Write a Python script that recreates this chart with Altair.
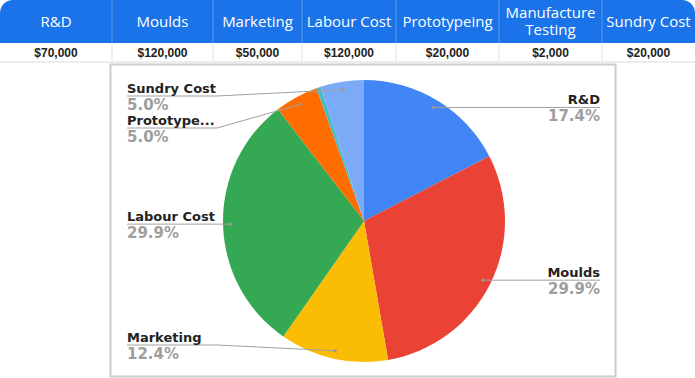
import math
import altair as alt
import pandas as pd

# ---------------- data ----------------
categories = ["R&D", "Moulds", "Marketing", "Labour Cost", "Prototypeing",
              "Manufacture Testing", "Sundry Cost"]
costs = [70000, 120000, 50000, 120000, 20000, 2000, 20000]
header_labels = ["R&D", "Moulds", "Marketing", "Labour Cost", "Prototypeing",
                 "Manufacture\nTesting", "Sundry Cost"]
pie_labels = ["R&D", "Moulds", "Marketing", "Labour Cost", "Prototype...",
              "Manufacture Testing", "Sundry Cost"]
slice_colors = ["#4285F4", "#EA4335", "#FBBC04", "#34A853", "#FF6D01",
                "#46BDC6", "#7BAAF7"]

# ---------------- layout (pixels) ----------------
W, H = 695, 378
col_widths = [112, 101, 89, 94, 103, 103, 93]
HEAD_H, ROW_B = 43, 62
HEAD_LINE_H = 17
BOX = (110.5, 64.5, 615.5, 376.5)
CX, CY, R = 364, 221, 141
DOT_R = 0.943 * R
LEFT_X, RIGHT_X, LABEL_W = 127, 600, 90
TOP_BOUND, BOT_BOUND, GAP = 96, 345, 32

xs = alt.Scale(domain=[0, W], nice=False, zero=False)
ys = alt.Scale(domain=[0, H], nice=False, zero=False, reverse=True)

def X(f):
    return alt.X(f, type="quantitative", scale=xs, axis=None)

def Y(f):
    return alt.Y(f, type="quantitative", scale=ys, axis=None)

# ---------------- table ----------------
edges = [0]
for w in col_widths:
    edges.append(edges[-1] + w)
table = pd.DataFrame({
    "cat": categories,
    "head": header_labels,
    "val": ["${:,}".format(v) for v in costs],
    "x0": edges[:-1],
    "x1": edges[1:],
})
table["xc"] = (table["x0"] + table["x1"]) / 2
table["yh"] = HEAD_H / 2
table["yv"] = (HEAD_H + ROW_B) / 2 + 0.5
table["nlines"] = table["head"].str.count("\n") + 1

header_bg = alt.Chart(pd.DataFrame({"x0": [0], "x1": [W], "y0": [0], "y1": [HEAD_H]})).mark_rect(
    color="#1a73e8", cornerRadiusTopLeft=13, cornerRadiusTopRight=13
).encode(x=X("x0"), x2="x1", y=Y("y0"), y2="y1")

seps = pd.DataFrame({"x": edges[1:-1]})
seps["y0"], seps["y1"], seps["y2"] = 0, HEAD_H, ROW_B
head_seps = alt.Chart(seps).mark_rule(color="#5f9cf0", strokeWidth=1).encode(
    x=X("x"), y=Y("y0"), y2="y1")
row_seps = alt.Chart(seps).mark_rule(color="#e3e3e3", strokeWidth=1).encode(
    x=X("x"), y=Y("y1"), y2="y2")
row_bottom = alt.Chart(pd.DataFrame({"x0": [0], "x1": [W], "y": [ROW_B]})).mark_rule(
    color="#dadada", strokeWidth=1).encode(x=X("x0"), x2="x1", y=Y("y"))

head_layers = []
for n in sorted(table["nlines"].unique()):
    sub = table[table["nlines"] == n]
    head_layers.append(alt.Chart(sub).mark_text(
        font="Open Sans", fontSize=15, color="white", align="center", baseline="middle",
        lineBreak="\n", lineHeight=HEAD_LINE_H, dy=-(int(n) - 1) * HEAD_LINE_H / 2
    ).encode(x=X("xc"), y=Y("yh"), text="head:N"))

val_text = alt.Chart(table).mark_text(
    font="Liberation Sans", fontSize=12, fontWeight="bold", color="#222222",
    align="center", baseline="middle"
).encode(x=X("xc"), y=Y("yv"), text="val:N")

# ---------------- pie ----------------
box = alt.Chart(pd.DataFrame({"x0": [BOX[0]], "x1": [BOX[2]], "y0": [BOX[1]], "y1": [BOX[3]]})).mark_rect(
    fill="white", stroke="#cccccc", strokeWidth=2
).encode(x=X("x0"), x2="x1", y=Y("y0"), y2="y1")

pie_df = pd.DataFrame({"cat": categories, "value": costs, "idx": list(range(len(costs)))})
pie = alt.Chart(pie_df).mark_arc(radius=R).encode(
    theta=alt.Theta("value:Q", stack=True),
    order=alt.Order("idx:Q", sort="ascending"),
    color=alt.Color("cat:N", scale=alt.Scale(domain=categories, range=slice_colors), legend=None),
    x=alt.value(CX),
    y=alt.value(CY),
)

# leader geometry from data
total = sum(costs)
labels = []
cum = 0
for name, v in zip(pie_labels, costs):
    share = v / total
    mid = (cum + v / 2) / total * 2 * math.pi
    cum += v
    if share < 0.01:
        continue
    dx, dy = CX + DOT_R * math.sin(mid), CY - DOT_R * math.cos(mid)
    labels.append({"name": name, "pct": "{:.1f}%".format(share * 100),
                   "dx": dx, "dy": dy, "side": "L" if math.sin(mid) < 0 else "R", "ly": dy})

for side in ("L", "R"):
    grp = sorted([l for l in labels if l["side"] == side], key=lambda l: l["ly"])
    prev = None
    for l in grp:
        y = max(l["ly"], TOP_BOUND)
        if prev is not None:
            y = max(y, prev + GAP)
        l["ly"] = y
        prev = y
    nxt = None
    for l in reversed(grp):
        y = min(l["ly"], BOT_BOUND)
        if nxt is not None:
            y = min(y, nxt - GAP)
        l["ly"] = y
        nxt = y

line_rows = []
for l in labels:
    if l["side"] == "L":
        pts = [(LEFT_X, l["ly"]), (LEFT_X + LABEL_W, l["ly"]), (l["dx"], l["dy"])]
        l["tx"] = LEFT_X
    else:
        pts = [(RIGHT_X, l["ly"]), (RIGHT_X - LABEL_W, l["ly"]), (l["dx"], l["dy"])]
        l["tx"] = RIGHT_X
    for i, (px, py) in enumerate(pts):
        line_rows.append({"name": l["name"], "pt": i, "x": px, "y": py})
    l["ny"] = l["ly"] - 3
    l["py"] = l["ly"] + 2

lines = alt.Chart(pd.DataFrame(line_rows)).mark_line(color="#a0a0a0", strokeWidth=1).encode(
    x=X("x"), y=Y("y"), detail="name:N", order="pt:Q")

lab_df = pd.DataFrame(labels)
dots = alt.Chart(lab_df).mark_circle(color="#9a9a9a", size=10, opacity=1).encode(
    x=X("dx"), y=Y("dy"))

text_layers = []
for side, al in (("L", "left"), ("R", "right")):
    sub = lab_df[lab_df["side"] == side]
    text_layers.append(alt.Chart(sub).mark_text(
        font="DejaVu Sans", fontSize=13, fontWeight="bold", color="#222222",
        align=al, baseline="alphabetic").encode(x=X("tx"), y=Y("ny"), text="name:N"))
    text_layers.append(alt.Chart(sub).mark_text(
        font="DejaVu Sans", fontSize=15, fontWeight="bold", color="#9e9e9e",
        align=al, baseline="top").encode(x=X("tx"), y=Y("py"), text="pct:N"))

chart = alt.layer(
    row_bottom, box, header_bg, head_seps, row_seps, *head_layers, val_text,
    pie, lines, dots, *text_layers
).properties(
    width=W, height=H, padding=0, autosize="none", background="white"
).configure_view(stroke=None)

chart.save("out.html", embed_options={"renderer": "svg", "actions": False})
